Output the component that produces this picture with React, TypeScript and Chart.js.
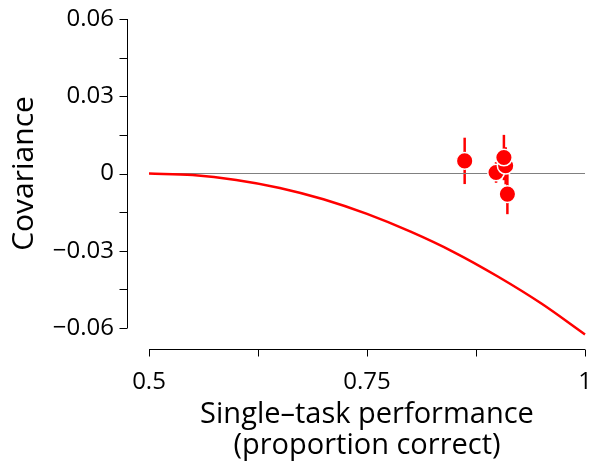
import React, { useEffect, useRef } from "react";
import { Chart, registerables } from "chart.js";

Chart.register(...registerables);

// Model curve
const curveX = [0.5, 0.55, 0.6, 0.65, 0.7, 0.75, 0.8, 0.85, 0.9, 0.95, 1.0];
const curveY = [0, -0.0006, -0.0025, -0.0056, -0.01, -0.0157, -0.0226, -0.0306, -0.04, -0.0505, -0.0625];

// Observed points with error bars
const pointX = [0.862, 0.898, 0.911, 0.909, 0.907];
const pointY = [0.0049, 0.0004, -0.008, 0.003, 0.0062];
const pointErr = [0.009, 0.004, 0.0078, 0.0072, 0.0088];

// Axis ranges and ticks
const xMin = 0.5;
const xMax = 1;
const xStep = 0.125;
const xLabels: Record<string, string> = { "0.5": "0.5", "0.75": "0.75", "1": "1" };
const yMin = -0.06;
const yMax = 0.06;
const yStep = 0.015;
const yLabels: Record<string, string> = { "0.06": "0.06", "0.03": "0.03", "0": "0", "-0.03": "\u22120.03", "-0.06": "\u22120.06" };

const xTitle = ["Single\u2013task performance", "(proportion correct)"];
const yTitle = "Covariance";

const FONT = "'Open Sans', sans-serif";

const noPad = () => ({ left: 0, top: 0, right: 0, bottom: 0 });

const detachedAxes = {
  id: "detachedAxes",
  beforeDatasetsDraw(chart: any) {
    const { ctx } = chart;
    const xs = chart.scales.x;
    const ys = chart.scales.y;
    ctx.save();
    ctx.strokeStyle = "#ff0000";
    ctx.lineWidth = 2.5;
    for (let i = 0; i < pointX.length; i++) {
      const px = xs.getPixelForValue(pointX[i]);
      ctx.beginPath();
      ctx.moveTo(px, ys.getPixelForValue(pointY[i] + pointErr[i]));
      ctx.lineTo(px, ys.getPixelForValue(pointY[i] - pointErr[i]));
      ctx.stroke();
    }
    ctx.restore();
  },
  afterDraw(chart: any) {
    const { ctx, chartArea } = chart;
    const xs = chart.scales.x;
    const ys = chart.scales.y;
    ctx.save();
    ctx.strokeStyle = "#000000";
    ctx.lineWidth = 1;
    const ax = Math.round(chartArea.left - 22) + 0.5;
    const yTop = ys.getPixelForValue(yMax);
    const yBot = ys.getPixelForValue(yMin);
    ctx.beginPath();
    ctx.moveTo(ax, yTop);
    ctx.lineTo(ax, yBot);
    ys.ticks.forEach((t: any) => {
      const py = Math.round(ys.getPixelForValue(t.value)) + 0.5;
      ctx.moveTo(ax - 8, py);
      ctx.lineTo(ax, py);
    });
    ctx.stroke();
    const ay = Math.round(chartArea.bottom + 21) + 0.5;
    const xL = xs.getPixelForValue(xMin);
    const xR = xs.getPixelForValue(xMax);
    ctx.beginPath();
    ctx.moveTo(xL, ay);
    ctx.lineTo(xR, ay);
    xs.ticks.forEach((t: any) => {
      const px = Math.round(xs.getPixelForValue(t.value)) + 0.5;
      ctx.moveTo(px, ay);
      ctx.lineTo(px, ay + 7);
    });
    ctx.stroke();
    ctx.restore();
  },
};

function keyOf(v: number, step: number) {
  const r = Math.round(v / step) * step;
  return String(parseFloat(r.toFixed(4)));
}

export default function App() {
  const ref = useRef<HTMLCanvasElement | null>(null);
  useEffect(() => {
    if (!ref.current) return;
    const chart = new Chart(ref.current, {
      type: "scatter",
      data: {
        datasets: [
          {
            type: "scatter",
            data: pointX.map((x, i) => ({ x, y: pointY[i] })),
            backgroundColor: "#ff0000",
            borderColor: "#ffffff",
            borderWidth: 1.5,
            pointRadius: 8.3,
            pointHoverRadius: 8.3,
            clip: false,
          } as any,
          {
            type: "line",
            data: curveX.map((x, i) => ({ x, y: curveY[i] })),
            borderColor: "#ff0000",
            borderWidth: 2.5,
            pointRadius: 0,
            fill: false,
            cubicInterpolationMode: "monotone",
            clip: false,
          } as any,
          {
            type: "line",
            data: [
              { x: xMin, y: 0 },
              { x: xMax, y: 0 },
            ],
            borderColor: "#808080",
            borderWidth: 1,
            pointRadius: 0,
            fill: false,
          } as any,
        ],
      },
      options: {
        animation: false,
        responsive: true,
        maintainAspectRatio: false,
        layout: { autoPadding: false, padding: { top: 19, right: 4, left: 0, bottom: 0 } },
        plugins: { legend: { display: false }, tooltip: { enabled: false } },
        scales: {
          x: {
            type: "linear",
            min: xMin,
            max: xMax,
            grid: { display: false },
            border: { display: false },
            ticks: {
              stepSize: xStep,
              autoSkip: false,
              maxRotation: 0,
              padding: 32,
              color: "#000",
              font: { family: FONT, size: 24 },
              callback: (v: any) => xLabels[keyOf(Number(v), xStep)] ?? "",
            },
            title: {
              display: true,
              text: xTitle,
              color: "#000",
              font: { family: FONT, size: 29, lineHeight: 1.07 },
              padding: { top: 0, bottom: 5 },
            },
            afterFit: (s: any) => {
              s.height = 138;
              s.paddingLeft = 0;
              s.paddingRight = 0;
              s.getPadding = noPad;
            },
          },
          y: {
            type: "linear",
            min: yMin,
            max: yMax,
            grid: { display: false },
            border: { display: false },
            ticks: {
              stepSize: yStep,
              autoSkip: false,
              padding: 27,
              color: "#000",
              font: { family: FONT, size: 24 },
              callback: (v: any) => yLabels[keyOf(Number(v), yStep)] ?? "",
            },
            title: {
              display: true,
              text: yTitle,
              color: "#000",
              font: { family: FONT, size: 30, lineHeight: 1.2 },
              padding: { top: 6, bottom: 0 },
            },
            afterFit: (s: any) => {
              s.width = 149;
              s.paddingTop = 0;
              s.paddingBottom = 0;
              s.getPadding = noPad;
            },
          },
        },
      },
      plugins: [detachedAxes],
    });
    return () => chart.destroy();
  }, []);
  return (
    <div style={{ position: "fixed", left: 0, top: 0, width: 589, height: 466 }}>
      <canvas ref={ref} />
    </div>
  );
}
